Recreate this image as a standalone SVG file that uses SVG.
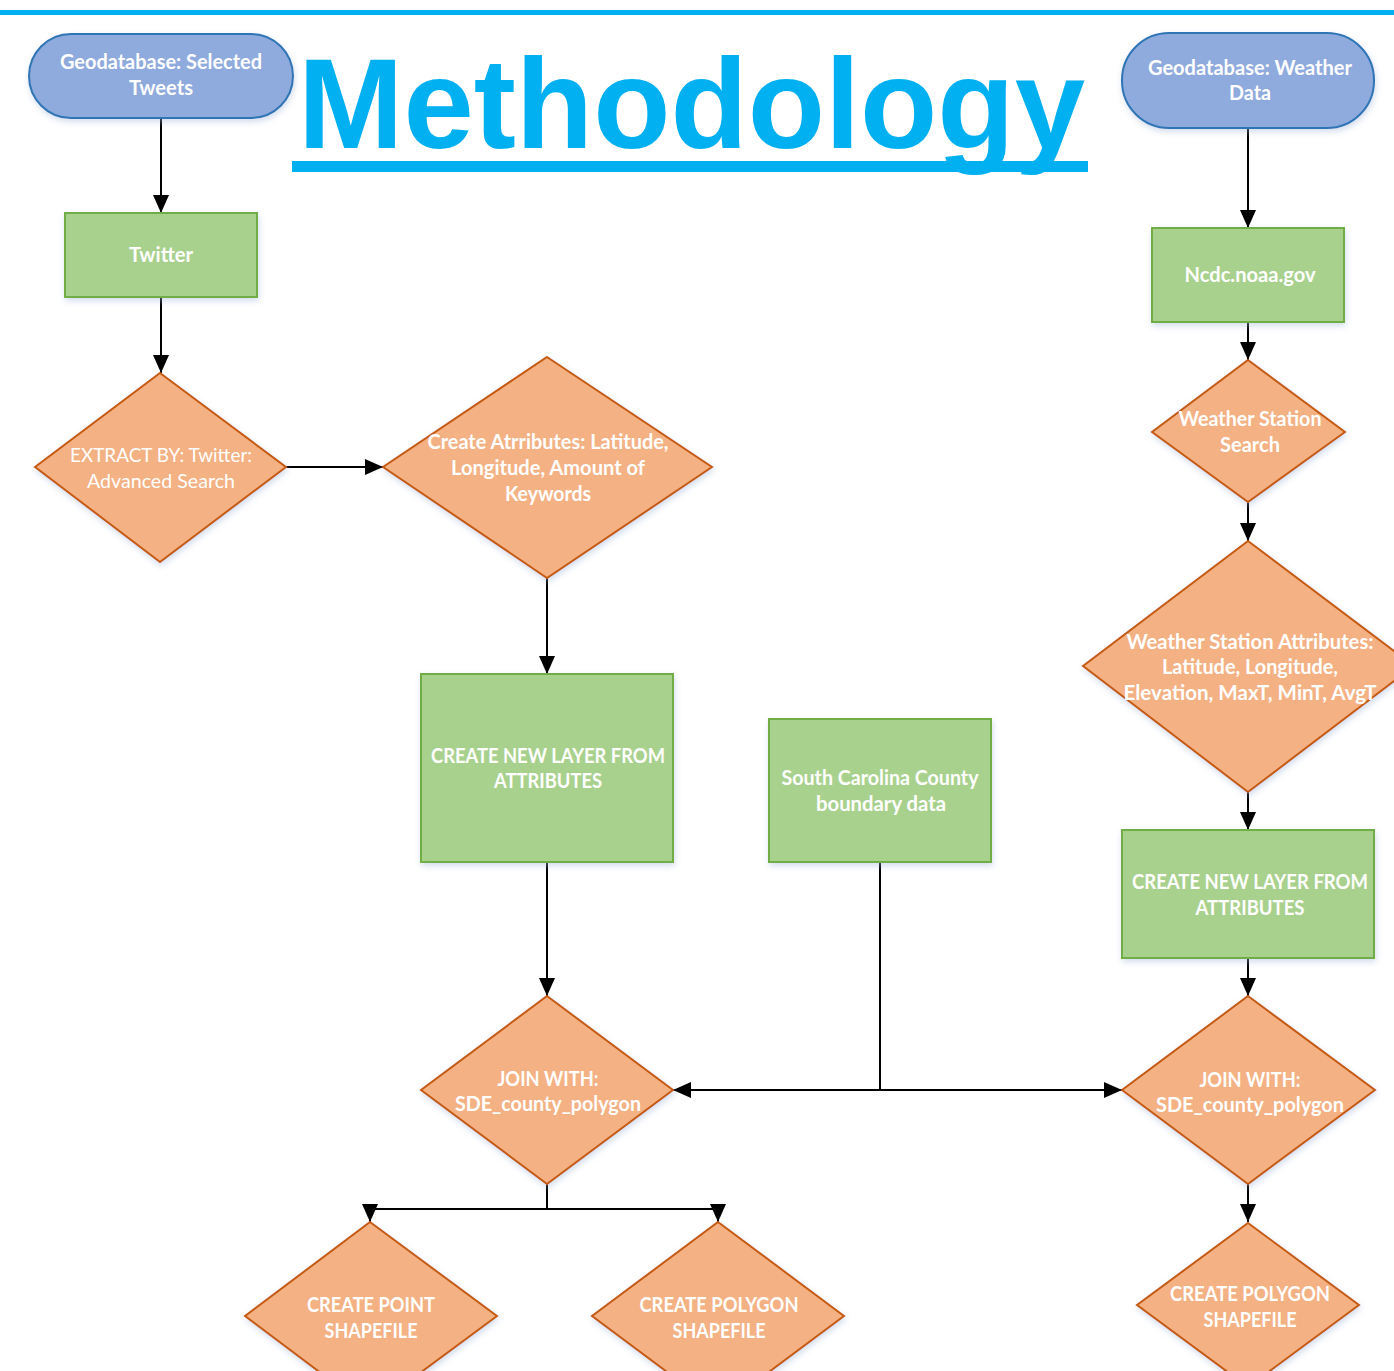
<svg xmlns="http://www.w3.org/2000/svg" width="1394" height="1371" viewBox="0 0 1394 1371">
<style>
.term{fill:#8FAADC;stroke:#2E75B6;stroke-width:2}
.proc{fill:#A9D18E;stroke:#70AD47;stroke-width:2}
.dec{fill:#F4B183;stroke:#C55A11;stroke-width:2}
.lbl{font-family:Lato,"Open Sans","Liberation Sans",sans-serif;font-size:20px;font-weight:bold;fill:#FFFFFF;text-anchor:middle}
.thin{font-weight:normal}
.conn{fill:none;stroke:#000000;stroke-width:2}
.shape{filter:url(#sh)}
</style>
<defs>
<marker id="arr" markerUnits="userSpaceOnUse" markerWidth="18" markerHeight="16" viewBox="0 0 18 16" refX="18" refY="8" orient="auto">
<path d="M0,0 L18,8 L0,16 z" fill="#000000"/>
</marker>
<filter id="sh" x="-10%" y="-10%" width="125%" height="130%">
<feDropShadow dx="1" dy="3" stdDeviation="3" flood-color="#9DB4D8" flood-opacity="0.45"/>
</filter>
</defs>
<rect x="0" y="0" width="1394" height="1371" fill="#FFFFFF"/>
<rect x="0" y="10" width="1394" height="5" fill="#00B0F0"/>
<g id="title">
<text x="298" y="148" font-family="Liberation Sans, Arial, sans-serif" font-weight="bold" font-size="128" fill="#00B0F0" textLength="787" lengthAdjust="spacingAndGlyphs">Methodology</text>
<rect x="292" y="161" width="796" height="11" fill="#00B0F0"/>
</g>
<g id="connectors">
<path class="conn" d="M161,118 V213" marker-end="url(#arr)"/>
<path class="conn" d="M161,297 V373" marker-end="url(#arr)"/>
<path class="conn" d="M286,467 H383" marker-end="url(#arr)"/>
<path class="conn" d="M547,578 V674" marker-end="url(#arr)"/>
<path class="conn" d="M547,862 V996" marker-end="url(#arr)"/>
<path class="conn" d="M880,862 V1090 H673" marker-end="url(#arr)"/>
<path class="conn" d="M880,1090 H1122" marker-end="url(#arr)"/>
<path class="conn" d="M547,1184 V1209 H370 V1222" marker-end="url(#arr)"/>
<path class="conn" d="M547,1209 H718 V1222" marker-end="url(#arr)"/>
<path class="conn" d="M1248,128 V228" marker-end="url(#arr)"/>
<path class="conn" d="M1248,322 V360" marker-end="url(#arr)"/>
<path class="conn" d="M1248,502 V541" marker-end="url(#arr)"/>
<path class="conn" d="M1248,792 V830" marker-end="url(#arr)"/>
<path class="conn" d="M1248,958 V996" marker-end="url(#arr)"/>
<path class="conn" d="M1248,1184 V1222" marker-end="url(#arr)"/>
</g>
<g id="geo-tweets">
<rect class="term shape" x="29" y="34" width="264" height="84" rx="42" ry="42"/>
<text class="lbl" x="161" y="69" textLength="202" lengthAdjust="spacingAndGlyphs">Geodatabase: Selected</text>
<text class="lbl" x="161" y="95" textLength="64" lengthAdjust="spacingAndGlyphs">Tweets</text>
</g>
<g id="twitter">
<rect class="proc shape" x="65" y="213" width="192" height="84"/>
<text class="lbl" x="161" y="262" textLength="64" lengthAdjust="spacingAndGlyphs">Twitter</text>
</g>
<g id="extract">
<polygon class="dec shape" points="160,373 286,467 160,562 35,467"/>
<text class="lbl thin" x="161" y="462" textLength="182" lengthAdjust="spacingAndGlyphs">EXTRACT BY: Twitter:</text>
<text class="lbl thin" x="161" y="488" textLength="148" lengthAdjust="spacingAndGlyphs">Advanced Search</text>
</g>
<g id="create-attributes">
<polygon class="dec shape" points="547,357 712,467 547,578 383,467"/>
<text class="lbl" x="548" y="449" textLength="241" lengthAdjust="spacingAndGlyphs">Create Atrributes: Latitude,</text>
<text class="lbl" x="548" y="475" textLength="194" lengthAdjust="spacingAndGlyphs">Longitude, Amount of</text>
<text class="lbl" x="548" y="501" textLength="86" lengthAdjust="spacingAndGlyphs">Keywords</text>
</g>
<g id="new-layer-left">
<rect class="proc shape" x="421" y="674" width="252" height="188"/>
<text class="lbl" x="548" y="763" textLength="234" lengthAdjust="spacingAndGlyphs">CREATE NEW LAYER FROM</text>
<text class="lbl" x="548" y="788" textLength="108" lengthAdjust="spacingAndGlyphs">ATTRIBUTES</text>
</g>
<g id="sc-county">
<rect class="proc shape" x="769" y="719" width="222" height="143"/>
<text class="lbl" x="880" y="785" textLength="197" lengthAdjust="spacingAndGlyphs">South Carolina County</text>
<text class="lbl" x="881" y="811" textLength="130" lengthAdjust="spacingAndGlyphs">boundary data</text>
</g>
<g id="join-left">
<polygon class="dec shape" points="547,996 673,1090 547,1184 421,1090"/>
<text class="lbl" x="548" y="1086" textLength="101" lengthAdjust="spacingAndGlyphs">JOIN WITH:</text>
<text class="lbl" x="548" y="1111" textLength="186" lengthAdjust="spacingAndGlyphs">SDE_county_polygon</text>
</g>
<g id="point-shapefile">
<polygon class="dec shape" points="370,1222 497,1316 370,1410 245,1316"/>
<text class="lbl" x="371" y="1312" textLength="128" lengthAdjust="spacingAndGlyphs">CREATE POINT</text>
<text class="lbl" x="371" y="1338" textLength="93" lengthAdjust="spacingAndGlyphs">SHAPEFILE</text>
</g>
<g id="polygon-shapefile-left">
<polygon class="dec shape" points="718,1222 844,1316 718,1410 592,1316"/>
<text class="lbl" x="719" y="1312" textLength="159" lengthAdjust="spacingAndGlyphs">CREATE POLYGON</text>
<text class="lbl" x="719" y="1338" textLength="93" lengthAdjust="spacingAndGlyphs">SHAPEFILE</text>
</g>
<g id="geo-weather">
<rect class="term shape" x="1122" y="33" width="252" height="95" rx="47" ry="47"/>
<text class="lbl" x="1250" y="75" textLength="204" lengthAdjust="spacingAndGlyphs">Geodatabase: Weather</text>
<text class="lbl" x="1250" y="100" textLength="42" lengthAdjust="spacingAndGlyphs">Data</text>
</g>
<g id="ncdc">
<rect class="proc shape" x="1152" y="228" width="192" height="94"/>
<text class="lbl" x="1250" y="282" textLength="131" lengthAdjust="spacingAndGlyphs">Ncdc.noaa.gov</text>
</g>
<g id="station-search">
<polygon class="dec shape" points="1248,360 1345,432 1248,502 1152,432"/>
<text class="lbl" x="1250" y="426" textLength="143" lengthAdjust="spacingAndGlyphs">Weather Station</text>
<text class="lbl" x="1250" y="452" textLength="60" lengthAdjust="spacingAndGlyphs">Search</text>
</g>
<g id="station-attributes">
<polygon class="dec shape" points="1248,541 1414,666 1248,792 1083,666"/>
<text class="lbl" x="1250" y="649" textLength="247" lengthAdjust="spacingAndGlyphs">Weather Station Attributes:</text>
<text class="lbl" x="1250" y="674" textLength="176" lengthAdjust="spacingAndGlyphs">Latitude, Longitude,</text>
<text class="lbl" x="1250" y="700" textLength="253" lengthAdjust="spacingAndGlyphs">Elevation, MaxT, MinT, AvgT</text>
</g>
<g id="new-layer-right">
<rect class="proc shape" x="1122" y="830" width="252" height="128"/>
<text class="lbl" x="1250" y="889" textLength="236" lengthAdjust="spacingAndGlyphs">CREATE NEW LAYER FROM</text>
<text class="lbl" x="1250" y="915" textLength="109" lengthAdjust="spacingAndGlyphs">ATTRIBUTES</text>
</g>
<g id="join-right">
<polygon class="dec shape" points="1248,996 1375,1090 1248,1184 1122,1090"/>
<text class="lbl" x="1250" y="1087" textLength="101" lengthAdjust="spacingAndGlyphs">JOIN WITH:</text>
<text class="lbl" x="1250" y="1112" textLength="188" lengthAdjust="spacingAndGlyphs">SDE_county_polygon</text>
</g>
<g id="polygon-shapefile-right">
<polygon class="dec shape" points="1248,1223 1359,1305 1248,1387 1137,1305"/>
<text class="lbl" x="1250" y="1301" textLength="160" lengthAdjust="spacingAndGlyphs">CREATE POLYGON</text>
<text class="lbl" x="1250" y="1327" textLength="93" lengthAdjust="spacingAndGlyphs">SHAPEFILE</text>
</g>
</svg>
